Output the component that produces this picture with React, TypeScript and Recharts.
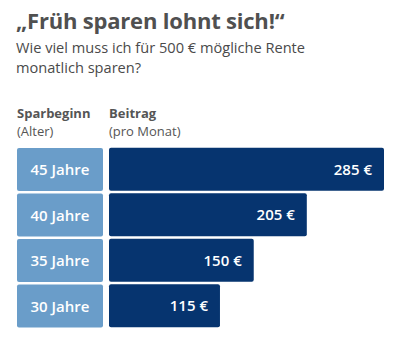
import React from "react";
import { BarChart, Bar, XAxis, YAxis, LabelList } from "recharts";

const ages = ["45 Jahre", "40 Jahre", "35 Jahre", "30 Jahre"];
const amounts = [285, 205, 150, 115];
const title = "„Früh sparen lohnt sich!“";
const subtitle = "Wie viel muss ich für 500 € mögliche Rente monatlich sparen?";
const headerLeft = ["Sparbeginn", "(Alter)"];
const headerRight = ["Beitrag", "(pro Monat)"];

const data = ages.map((age, i) => ({ age, amount: amounts[i] }));

const FONT = "'Open Sans', sans-serif";
const LIGHT = "#6a9dc9";
const DARK = "#06346f";
const GREY = "#555555";

const AgeTick = (props: any) => {
  const { y, payload } = props;
  return (
    <g>
      <rect x={17} y={y - 21.5} width={86} height={43} rx={2} ry={2} fill={LIGHT} />
      <text
        x={60}
        y={y}
        dy={5.5}
        textAnchor="middle"
        fill="#ffffff"
        fontFamily={FONT}
        fontSize={15}
        fontWeight={600}
      >
        {payload.value}
      </text>
    </g>
  );
};

const ValueLabel = (props: any) => {
  const { x, y, width, height, value } = props;
  return (
    <text
      x={x + width - 12}
      y={y + height / 2}
      dy={5.5}
      textAnchor="end"
      fill="#ffffff"
      fontFamily={FONT}
      fontSize={15}
      fontWeight={600}
    >
      {`${value} €`}
    </text>
  );
};

export default function App() {
  return (
    <div
      style={{
        position: "absolute",
        left: 0,
        top: 0,
        width: 400,
        height: 342,
        background: "#ffffff",
        fontFamily: FONT,
        color: GREY,
      }}
    >
      <div
        style={{
          position: "absolute",
          left: 16,
          top: 5,
          fontSize: 22,
          fontWeight: 700,
          lineHeight: "30px",
          color: "#505050",
          whiteSpace: "nowrap",
          letterSpacing: "-0.2px",
        }}
      >
        {title}
      </div>
      <div
        style={{
          position: "absolute",
          left: 16,
          top: 37,
          width: 310,
          fontSize: 14.6,
          lineHeight: "20px",
          color: "#4a4a4a",
        }}
      >
        {subtitle}
      </div>
      <div
        style={{
          position: "absolute",
          left: 17,
          top: 104,
          fontSize: 13,
          lineHeight: "18px",
          color: GREY,
        }}
      >
        <div style={{ fontWeight: 700 }}>{headerLeft[0]}</div>
        <div>{headerLeft[1]}</div>
      </div>
      <div
        style={{
          position: "absolute",
          left: 109,
          top: 104,
          fontSize: 13,
          lineHeight: "18px",
          color: GREY,
        }}
      >
        <div style={{ fontWeight: 700 }}>{headerRight[0]}</div>
        <div>{headerRight[1]}</div>
      </div>
      <div style={{ position: "absolute", left: 0, top: 0 }}>
        <BarChart
          width={400}
          height={342}
          data={data}
          layout="vertical"
          margin={{ top: 146.75, right: 16, bottom: 13.25, left: 0 }}
        >
          <XAxis type="number" hide domain={[0, "dataMax"]} />
          <YAxis
            type="category"
            dataKey="age"
            width={109}
            axisLine={false}
            tickLine={false}
            tick={<AgeTick />}
          />
          <Bar dataKey="amount" fill={DARK} barSize={43} radius={2} isAnimationActive={false}>
            <LabelList dataKey="amount" content={<ValueLabel />} />
          </Bar>
        </BarChart>
      </div>
    </div>
  );
}
